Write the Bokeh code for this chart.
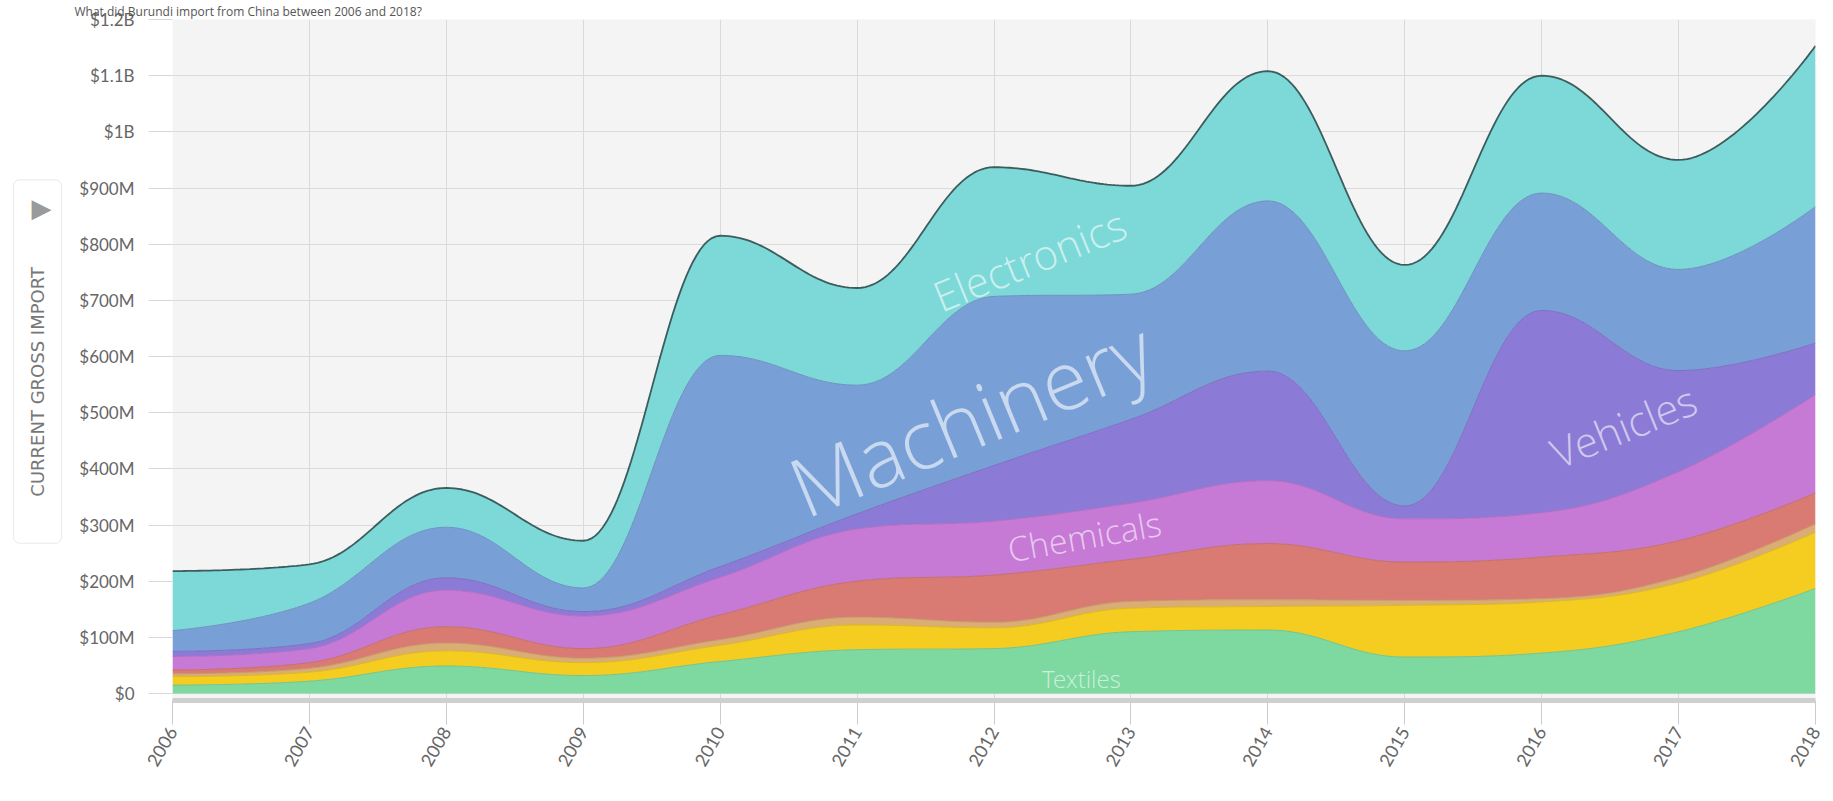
import math
import numpy as np
from bokeh.plotting import figure
from bokeh.layouts import row
from bokeh.models import Range1d, FixedTicker, Label, BoxAnnotation
from bokeh.embed import file_html
from bokeh.resources import INLINE

# ---------------- data (values in millions of US$) ----------------
years = [2006, 2007, 2008, 2009, 2010, 2011, 2012, 2013, 2014, 2015, 2016, 2017, 2018]
textiles = [15, 22, 49, 32, 57, 78, 80, 110, 113, 65, 72, 110, 187]
metals = [15, 16, 27, 23, 29, 44, 37, 42, 42, 92, 91, 87, 100]
footwear = [5, 7, 14, 8, 10, 14, 10, 12, 12, 9, 6, 10, 15]
plastics = [7, 10, 29, 17, 44, 64, 84, 75, 100, 68, 74, 65, 55]
chemicals = [24, 25, 65, 58, 67, 93, 96, 100, 112, 77, 79, 123, 175]
vehicles = [9, 9, 22, 8, 19, 27, 99, 149, 195, 23, 360, 180, 92]
machinery = [37, 72, 90, 42, 376, 229, 301, 223, 303, 276, 209, 180, 243]
electronics = [106, 69, 70, 84, 213, 173, 230, 193, 231, 153, 209, 195, 286]

series_names = ["Textiles", "Metals", "Footwear", "Plastics", "Chemicals",
                "Vehicles", "Machinery", "Electronics"]
series_values = [textiles, metals, footwear, plastics, chemicals,
                 vehicles, machinery, electronics]
series_colors = ["#7ed9a0", "#f5cd20", "#d9ad74", "#d97b73", "#c67ad6",
                 "#8c7bd6", "#79a0d6", "#7dd8d8"]

y_ticks = [0, 100, 200, 300, 400, 500, 600, 700, 800, 900, 1000, 1100, 1200]
y_tick_labels = ["$0", "$100M", "$200M", "$300M", "$400M", "$500M", "$600M",
                 "$700M", "$800M", "$900M", "$1B", "$1.1B", "$1.2B"]
x_tick_labels = [str(y) for y in years]

title_text = "What did Burundi import from China between 2006 and 2018?"
y_title = "CURRENT GROSS IMPORT"

# ---------------- layout (page pixels) ----------------
H = 790
LEFT_W = 70
MAIN_W = 1755
FRAME_L, FRAME_R, FRAME_T, FRAME_B = 172, 1815, 16, 700
Y_MIN, Y_MAX = -12.4, 1200.0
frame_w = FRAME_R - FRAME_L
frame_h = FRAME_B - FRAME_T
px_per_year = frame_w / (years[-1] - years[0])
px_per_val = frame_h / (Y_MAX - Y_MIN)


def px_x(ax):
    return years[0] + (ax - FRAME_L) / px_per_year


def px_y(ay):
    return Y_MAX - (ay - FRAME_T) / px_per_val


# ---------------- Highcharts-like spline ----------------
def controls(xs, ys, s=1.5):
    n = len(xs)
    L = [None] * n
    R = [None] * n
    d = s + 1
    for i in range(n):
        px, py = xs[i], ys[i]
        if i == 0 or i == n - 1:
            L[i] = (px, py)
            R[i] = (px, py)
            continue
        lx, ly = xs[i - 1], ys[i - 1]
        nx, ny = xs[i + 1], ys[i + 1]
        lcx = (s * px + lx) / d
        lcy = (s * py + ly) / d
        rcx = (s * px + nx) / d
        rcy = (s * py + ny) / d
        corr = ((rcy - lcy) * (rcx - px)) / (rcx - lcx) + py - rcy
        lcy += corr
        rcy += corr
        if lcy > ly and lcy > py:
            lcy = max(ly, py)
            rcy = 2 * py - lcy
        elif lcy < ly and lcy < py:
            lcy = min(ly, py)
            rcy = 2 * py - lcy
        if rcy > ny and rcy > py:
            rcy = max(ny, py)
            lcy = 2 * py - rcy
        elif rcy < ny and rcy < py:
            rcy = min(ny, py)
            lcy = 2 * py - rcy
        L[i] = (lcx, lcy)
        R[i] = (rcx, rcy)
    return L, R


def sample(xs, ys, m=40):
    L, R = controls(xs, ys)
    t = np.linspace(0, 1, m)
    ox, oy = [], []
    for i in range(1, len(xs)):
        p0 = (xs[i - 1], ys[i - 1])
        c1 = R[i - 1]
        c2 = L[i]
        p1 = (xs[i], ys[i])
        a = (1 - t) ** 3
        b = 3 * (1 - t) ** 2 * t
        c = 3 * (1 - t) * t ** 2
        e = t ** 3
        bx = a * p0[0] + b * c1[0] + c * c2[0] + e * p1[0]
        by = a * p0[1] + b * c1[1] + c * c2[1] + e * p1[1]
        if i > 1:
            bx, by = bx[1:], by[1:]
        ox.append(bx)
        oy.append(by)
    return np.concatenate(ox), np.concatenate(oy)


def darker(hexc, f=0.8):
    r, g, b = int(hexc[1:3], 16), int(hexc[3:5], 16), int(hexc[5:7], 16)
    return "#%02x%02x%02x" % (int(r * f), int(g * f), int(b * f))


# ---------------- left panel: axis title box ----------------
# its frame spans the same page rows as the main frame; data y = -page y
lp = figure(width=LEFT_W, height=H, output_backend="svg", toolbar_location=None,
            x_range=Range1d(0, LEFT_W), y_range=Range1d(-FRAME_B, -FRAME_T),
            x_axis_location=None, y_axis_location=None,
            min_border_left=0, min_border_right=0,
            min_border_top=FRAME_T, min_border_bottom=H - FRAME_B)
lp.grid.visible = False
lp.outline_line_color = None
lp.background_fill_color = "white"
lp.border_fill_color = "white"
lp.add_layout(BoxAnnotation(left=13, right=61, top=-177, bottom=-542,
                            fill_color="white", fill_alpha=1.0, line_color="#b8b8b8",
                            line_width=1, border_radius=6))
lp.add_layout(Label(x=41, y=-205, text="\u25B6", text_align="center",
                    text_baseline="middle", text_font_size="26px",
                    text_color="#9a9a9a", text_font="DejaVu Sans"))
lp.add_layout(Label(x=37, y=-380, text=y_title, angle=math.pi / 2,
                    text_align="center", text_baseline="middle",
                    text_font_size="18px", text_color="#777777",
                    text_font="DejaVu Sans"))

# ---------------- main figure ----------------
p = figure(width=MAIN_W, height=H, output_backend="svg", toolbar_location=None,
           x_range=Range1d(years[0], years[-1]), y_range=Range1d(Y_MIN, Y_MAX),
           min_border_left=FRAME_L - LEFT_W, min_border_right=LEFT_W + MAIN_W - FRAME_R,
           min_border_top=FRAME_T, min_border_bottom=H - FRAME_B)
p.background_fill_color = "#f4f4f4"
p.border_fill_color = "white"
p.outline_line_color = None

p.title.text = title_text
p.title.text_font = "Open Sans"
p.title.text_font_size = "12px"
p.title.text_font_style = "normal"
p.title.text_color = "#555555"
p.title.align = "left"
p.title.standoff = 0
p.title.offset = -(FRAME_L - LEFT_W - 4)

stack = np.cumsum(np.array(series_values, dtype=float), axis=0)
xs_years = np.array(years, dtype=float)
prev = None
boundaries = []
for k in range(len(series_values)):
    sx, sy = sample(xs_years, stack[k])
    lower = np.zeros_like(sy) if prev is None else prev
    p.varea(x=sx, y1=lower, y2=sy, fill_color=series_colors[k], fill_alpha=1.0)
    boundaries.append((sx, sy))
    prev = sy

for k, (sx, sy) in enumerate(boundaries):
    if k == len(boundaries) - 1:
        p.line(sx, sy, line_color="#3c5c5d", line_width=1.8)
    else:
        p.line(sx, sy, line_color=darker(series_colors[k], 0.9), line_width=1)

# x axis
p.xaxis.ticker = FixedTicker(ticks=years)
p.xaxis.major_label_overrides = {y: s for y, s in zip(years, x_tick_labels)}
p.xaxis.major_label_orientation = math.pi / 3
p.xaxis.axis_line_color = "#cfcfcf"
p.xaxis.axis_line_width = 5
p.xaxis.major_tick_line_color = "#cccccc"
p.xaxis.major_tick_out = 24
p.xaxis.major_tick_in = 0
p.xaxis.minor_tick_line_color = None
p.xaxis.major_label_standoff = 4
p.xaxis.major_label_text_font = "Lato"
p.xaxis.major_label_text_font_size = "18px"
p.xaxis.major_label_text_color = "#666666"

# y axis
p.yaxis.ticker = FixedTicker(ticks=y_ticks)
p.yaxis.major_label_overrides = {v: s for v, s in zip(y_ticks, y_tick_labels)}
p.yaxis.axis_line_color = None
p.yaxis.major_tick_line_color = "#d8d8d8"
p.yaxis.major_tick_out = 24
p.yaxis.major_tick_in = 0
p.yaxis.minor_tick_line_color = None
p.yaxis.major_label_standoff = 14
p.yaxis.major_label_text_font = "Lato"
p.yaxis.major_label_text_font_size = "17px"
p.yaxis.major_label_text_color = "#666666"

p.xgrid.grid_line_color = "#dadada"
p.ygrid.grid_line_color = "#dadada"

# area labels
area_font = "'Open Sans Light', 'Open Sans'"
area_labels = [
    ("Electronics", 1029, 257, 22, "42px"),
    ("Machinery", 970, 415, 22.5, "82px"),
    ("Chemicals", 1084, 535, 10, "34px"),
    ("Vehicles", 1623, 424, 22, "42px"),
    ("Textiles", 1081, 678, 0, "24px"),
]
for txt, ax, ay, ang, fs in area_labels:
    p.add_layout(Label(x=px_x(ax), y=px_y(ay), text=txt, angle=math.radians(ang),
                       text_align="center", text_baseline="middle", text_font_size=fs,
                       text_color="white", text_alpha=0.6, text_font=area_font))

layout = row(lp, p, spacing=0)
open("out.html", "w").write(file_html(layout, INLINE))
